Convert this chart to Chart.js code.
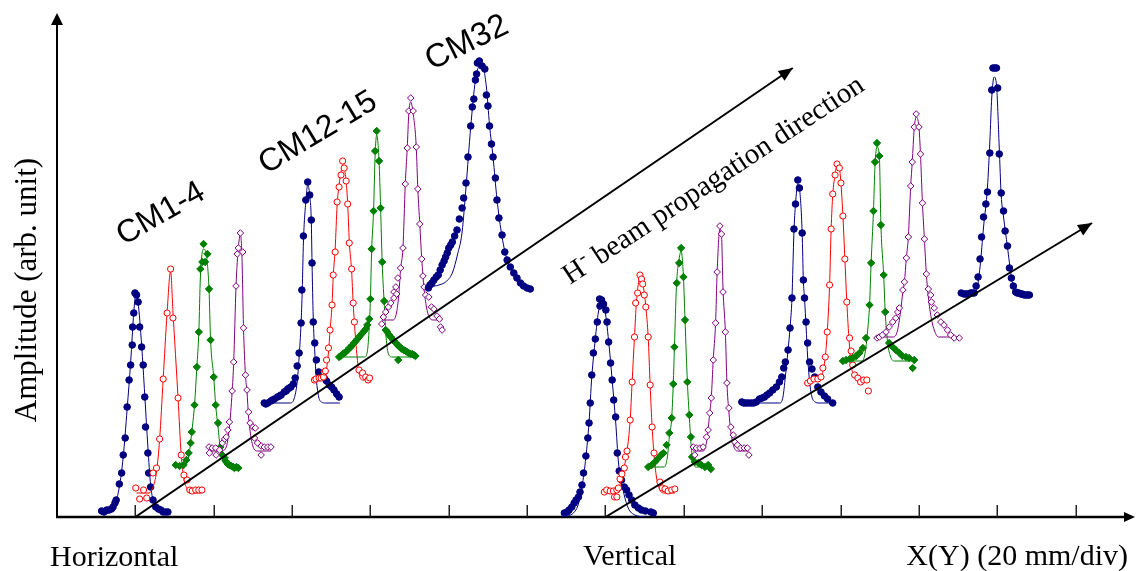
<!DOCTYPE html>
<html>
<head>
<meta charset="utf-8">
<script src="https://cdn.jsdelivr.net/npm/chart.js@4.4.1/dist/chart.umd.min.js"></script>
<style>
html,body{margin:0;padding:0;background:#fff;}
canvas{display:block;}
</style>
</head>
<body>
<canvas id="c" width="1139" height="571"></canvas>
<script>
// ---- axis / decoration data (x in mm, y in arb. unit) ----
const xTicks = [20,40,60,80,100,120,140,160,180,200,220,240,260];
const arrowH = [[20,0],[187.8,449]];
const arrowV = [[140,0],[264.2,294]];

// ---- Horizontal profiles ----
const H_CM1_pts = [[11.4,6],[12.0,5],[12.7,7],[13.3,7],[13.9,8],[14.3,10],[14.8,14],[15.1,17],[15.9,33],[16.5,44],[16.9,62],[17.4,79],[17.9,110],[18.4,137],[18.8,152],[19.2,172],[19.3,190],[19.6,204],[19.9,224],[20.3,222],[20.7,215],[21.1,190],[21.6,170],[22.0,152],[22.4,120],[22.6,90],[23.2,64],[23.4,44],[23.9,30],[24.5,17],[25.2,10],[25.9,8],[26.5,7],[27.1,5],[27.7,5],[28.3,5]];
const H_CM1_fit = [[11.4,3],[13.5,5],[14.8,12],[15.9,30],[16.9,60],[17.9,108],[18.8,155],[19.6,205],[20.1,222],[20.7,214],[21.6,172],[22.4,122],[23.2,70],[23.9,32],[24.5,17],[25.2,8],[26.5,4],[28.3,3]];
const H_CM2_pts = [[20.1,29],[21.1,18],[22.1,27],[22.9,19],[24.5,44],[25.4,49],[26.2,78],[27.1,138],[28.1,204],[29.0,248],[29.6,199],[30.9,119],[31.7,62],[32.4,42],[33.2,37],[33.9,27],[34.5,26],[35.4,27],[36.2,27],[37.0,27]];
const H_CM2_fit = [[20.3,24],[23.5,24],[24.5,30],[25.4,45],[26.2,78],[27.1,138],[28.1,204],[29.0,246],[29.6,205],[30.9,119],[31.7,62],[32.4,38],[33.2,28],[33.9,24],[37.0,24]];
const H_CM3_pts = [[30.3,52],[31.3,51],[32.3,52],[33.0,57],[33.6,64],[34.1,74],[34.4,85],[35.1,112],[35.7,150],[36.2,185],[36.6,248],[37.1,255],[37.4,273],[37.8,255],[38.4,263],[38.8,228],[39.2,177],[40.0,140],[40.5,112],[41.1,94],[41.7,70],[42.2,62],[42.8,59],[43.0,56],[43.6,53],[44.0,52],[44.5,51],[45.0,50],[45.3,49],[45.8,50],[46.3,49]];
const H_CM3_fit = [[30.3,51],[32.5,51],[33.6,60],[34.4,85],[35.1,112],[35.7,150],[36.2,185],[36.6,240],[37.4,268],[38.1,262],[38.8,228],[39.2,177],[40.0,140],[40.5,112],[41.1,90],[41.7,68],[42.5,55],[43.5,51],[46.3,51]];
const H_CM4_pts = [[38.8,70],[38.9,64],[39.6,69],[40.5,69],[40.6,62],[41.5,67],[42.2,74],[42.8,78],[43.2,80],[43.6,87],[44.0,95],[44.7,126],[45.1,155],[45.7,231],[46.0,263],[46.3,269],[46.8,284],[47.4,265],[47.6,189],[48.1,142],[48.5,127],[48.9,105],[49.3,94],[50.0,90],[50.6,89],[50.4,79],[51.2,74],[52.1,71],[52.9,70],[53.8,70],[54.6,70],[52.1,62]];
const H_CM4_fit = [[38.8,66],[42.0,66],[43.2,70],[44.0,90],[44.7,125],[45.1,155],[45.7,231],[46.3,270],[46.8,282],[47.2,262],[47.6,190],[48.1,142],[48.5,125],[48.9,100],[49.5,80],[50.3,68],[51.2,66],[54.6,66]];
const H_CM12_pts = [[52.9,114],[53.3,113],[53.8,114],[54.6,116],[55.0,117],[55.5,118],[56.3,120],[56.8,121],[57.2,122],[58.0,125],[58.5,126],[58.9,128],[59.3,129],[59.7,130],[60.3,133],[60.8,139],[61.3,151],[61.8,164],[62.3,194],[62.5,227],[62.9,281],[63.5,317],[64.0,335],[64.5,322],[64.9,297],[65.1,254],[65.4,195],[65.8,174],[66.2,157],[66.8,145],[67.5,142],[68.2,139],[68.8,136],[69.5,132],[70.1,130],[70.7,127],[71.4,123],[72.0,120]];
const H_CM12_fit = [[52.9,114],[59.5,114],[60.5,118],[61.3,135],[61.8,160],[62.3,194],[62.6,227],[62.9,275],[63.5,315],[64.0,332],[64.5,322],[64.9,297],[65.1,254],[65.4,200],[65.8,165],[66.2,138],[66.8,120],[67.5,115],[68.5,114],[72.2,114]];
const H_CM13_pts = [[65.7,137],[66.1,138],[66.9,139],[67.4,139],[68.0,140],[68.2,145],[68.5,146],[68.8,157],[69.3,169],[69.7,187],[70.2,212],[70.5,242],[71.0,265],[71.5,315],[72.0,330],[72.5,342],[72.9,356],[73.3,349],[73.8,336],[74.2,313],[74.6,274],[75.2,248],[75.6,214],[75.9,195],[77.1,147],[78.0,144],[78.8,140],[79.4,137],[79.8,139]];
const H_CM13_fit = [[65.7,137],[67.5,137],[68.5,142],[69.3,165],[69.7,187],[70.2,212],[70.5,240],[71.0,268],[71.5,312],[72.0,332],[72.5,345],[72.9,352],[73.3,349],[73.8,336],[74.2,313],[74.6,276],[75.2,246],[75.6,214],[75.9,195],[76.6,160],[77.3,140],[78.0,137],[79.8,137]];
const H_CM14_pts = [[72.0,160],[72.4,161],[72.9,163],[73.3,164],[73.7,165],[74.2,167],[74.6,169],[75.0,170],[75.4,172],[75.8,174],[76.3,176],[76.7,178],[77.1,180],[77.5,182],[78.0,184],[78.4,186],[78.8,188],[79.2,192],[79.7,198],[80.0,218],[80.3,268],[80.8,306],[81.2,366],[81.6,386],[82.2,356],[82.6,309],[83.0,255],[83.5,216],[83.9,187],[84.3,185],[84.8,182],[85.2,180],[85.6,178],[86.0,176],[86.5,174],[86.9,172],[87.3,171],[87.7,169],[88.1,168],[88.5,167],[89.0,166],[89.4,165],[89.8,164],[90.3,163],[90.7,163],[91.1,162],[91.5,161],[87.1,157]];
const H_CM14_fit = [[72.0,160],[78.5,160],[79.2,165],[79.7,190],[80.0,218],[80.3,265],[80.8,306],[81.2,362],[81.6,382],[82.2,356],[82.6,309],[83.0,255],[83.5,215],[84.0,180],[84.6,163],[85.5,160],[91.5,160]];
const H_CM15_pts = [[82.9,193],[83.3,200],[83.9,205],[84.6,210],[85.2,214],[86.0,219],[86.0,225],[86.5,230],[86.7,223],[87.0,239],[87.7,249],[88.3,269],[88.9,333],[89.4,369],[89.8,406],[90.3,419],[90.9,406],[91.7,370],[92.1,328],[92.6,293],[93.1,258],[93.4,241],[93.7,230],[94.1,222],[94.9,220],[95.6,210],[96.2,208],[97.0,201],[97.6,198],[97.9,190],[98.3,187]];
const H_CM15_fit = [[82.9,197],[85.8,197],[86.7,205],[87.3,225],[87.7,248],[88.3,269],[88.9,333],[89.4,369],[89.8,404],[90.3,415],[90.9,404],[91.7,370],[92.1,328],[92.6,293],[93.1,258],[93.7,228],[94.3,210],[95.0,200],[96.0,197],[98.3,197]];
const H_CM32_pts = [[94.8,229],[95.2,232],[95.7,234],[96.2,237],[96.8,240],[97.3,242],[97.8,247],[98.3,252],[98.8,256],[99.2,260],[99.6,264],[100.0,269],[100.5,272],[100.9,275],[101.5,281],[102.1,287],[102.7,298],[103.4,309],[103.8,319],[104.4,334],[104.9,360],[105.6,391],[106.0,410],[106.4,418],[106.8,437],[107.1,443],[107.3,454],[107.8,456],[108.5,451],[109.2,448],[109.6,422],[110.0,411],[110.4,391],[110.9,373],[111.3,360],[111.9,339],[112.3,317],[112.8,299],[113.6,282],[114.3,265],[114.9,257],[115.7,250],[116.6,244],[117.4,239],[118.3,234],[119.1,231],[120.0,229],[120.8,228]];
const H_CM32_fit = [[94.8,230],[97.5,232],[99.5,236],[101.0,245],[102.2,262],[103.4,285],[104.4,330],[105.6,390],[106.8,437],[107.8,452],[108.4,454],[109.6,430],[110.4,392],[111.3,360],[112.3,318],[113.6,280],[114.9,257],[116.6,243],[118.3,235],[120.8,229]];

// ---- Vertical profiles ----
const V_CM1_pts = [[129.5,4],[130.2,5],[130.7,7],[131.4,10],[132.0,14],[132.5,17],[133.1,20],[133.5,25],[134.0,32],[134.4,44],[135.0,61],[135.5,79],[135.8,94],[136.1,114],[136.5,142],[136.9,164],[137.4,178],[137.9,195],[138.5,218],[138.6,211],[139.0,217],[139.5,213],[140.1,207],[140.4,195],[140.8,175],[141.3,154],[141.7,137],[142.1,117],[142.6,100],[143.0,64],[143.5,46],[144.1,37],[144.8,30],[145.4,27],[146.0,22],[146.7,17],[147.5,12],[148.4,9],[149.2,7],[150.2,6],[151.6,5],[152.2,4]];
const V_CM1_fit = [[129.0,0],[131.5,3],[133.0,12],[134.0,30],[135.0,60],[135.8,95],[136.5,140],[137.4,178],[138.2,205],[139.0,214],[139.8,208],[140.8,176],[141.7,137],[142.6,95],[143.3,55],[144.6,25],[145.8,9],[147.5,2],[150.2,0]];
const V_CM2_pts = [[139.7,25],[140.3,27],[141.2,26],[142.0,26],[142.3,20],[142.9,27],[142.9,20],[143.3,29],[143.7,38],[144.2,43],[144.8,49],[145.1,60],[145.5,66],[146.3,97],[146.8,135],[147.4,180],[147.7,214],[148.2,224],[148.8,242],[149.2,238],[149.5,233],[149.9,222],[150.3,210],[150.9,180],[151.4,132],[151.9,90],[152.4,64],[153.9,35],[154.5,29],[155.2,28],[156.0,26],[156.9,27],[157.7,28]];
const V_CM2_fit = [[139.7,24],[142.5,24],[143.5,30],[144.5,45],[145.5,66],[146.3,97],[146.8,135],[147.4,180],[147.9,215],[148.5,236],[148.9,241],[149.5,234],[149.9,224],[150.3,210],[150.9,180],[151.4,132],[151.9,90],[152.4,62],[153.0,40],[153.9,27],[154.8,24],[157.7,24]];
const V_CM3_pts = [[150.9,50],[151.8,52],[152.6,55],[153.3,58],[154.2,62],[154.8,64],[155.6,72],[156.3,84],[156.9,99],[157.3,133],[157.6,170],[158.2,234],[158.8,254],[159.3,269],[159.9,240],[160.3,197],[160.9,135],[161.4,102],[161.8,80],[162.1,60],[162.8,55],[163.7,54],[164.5,52],[165.4,50],[166.2,52],[166.9,48]];
const V_CM3_fit = [[150.9,50],[155.0,50],[155.8,60],[156.3,80],[156.9,99],[157.3,133],[157.6,170],[158.1,230],[158.8,258],[159.3,266],[159.9,240],[160.3,197],[160.9,135],[161.4,100],[161.8,75],[162.3,56],[163.2,50],[166.9,50]];
const V_CM4_pts = [[162.4,70],[162.8,62],[163.2,69],[164.1,69],[164.9,70],[165.8,80],[166.2,87],[166.6,104],[167.0,119],[167.5,157],[168.1,194],[168.5,245],[169.2,291],[169.6,283],[170.0,225],[170.6,185],[171.0,134],[171.5,109],[172.0,90],[172.6,82],[173.0,75],[173.7,72],[174.5,69],[175.4,69],[176.2,69],[176.6,62]];
const V_CM4_fit = [[162.4,66],[165.0,66],[165.8,75],[166.2,87],[166.6,104],[167.0,119],[167.5,157],[168.1,194],[168.5,245],[169.2,288],[169.6,283],[170.0,228],[170.6,185],[171.0,134],[171.5,105],[172.0,85],[172.8,70],[173.7,66],[176.6,66]];
const V_CM12_pts = [[174.8,115],[175.3,114],[175.9,114],[176.5,114],[177.2,114],[177.8,114],[178.5,115],[179.3,118],[180.0,119],[180.6,120],[181.2,122],[181.9,124],[182.7,127],[183.6,130],[184.4,135],[185.0,140],[185.5,149],[185.9,155],[186.6,167],[187.1,189],[187.6,219],[188.1,288],[188.5,313],[189.1,337],[189.5,329],[190.2,284],[190.5,237],[190.8,219],[191.2,195],[191.6,174],[192.1,155],[192.7,148],[193.4,140],[194.2,130],[195.0,125],[195.9,121],[196.7,118],[198.0,114]];
const V_CM12_fit = [[174.8,114],[184.5,114],[185.3,120],[185.9,140],[186.6,167],[187.1,189],[187.6,219],[188.1,285],[188.5,313],[189.1,333],[189.5,329],[190.2,284],[190.5,237],[190.8,219],[191.2,190],[191.6,160],[192.1,135],[192.7,120],[193.5,115],[194.5,114],[198.0,114]];
const V_CM13_pts = [[191.6,134],[192.3,136],[193.2,138],[194.2,138],[195.0,140],[195.5,149],[196.1,160],[196.6,185],[197.2,232],[197.6,288],[198.0,323],[198.6,342],[199.1,353],[199.7,349],[200.1,334],[200.6,301],[201.1,258],[201.6,215],[202.3,179],[202.7,166],[203.1,152],[203.6,142],[204.4,139],[205.1,135],[205.9,137],[206.7,137],[207.1,126]];
const V_CM13_fit = [[191.6,137],[194.5,137],[195.3,143],[196.1,160],[196.6,185],[197.2,232],[197.6,288],[198.0,322],[198.6,342],[199.1,352],[199.7,349],[200.1,334],[200.6,301],[201.1,258],[201.6,215],[202.2,175],[202.8,150],[203.6,139],[204.5,137],[207.1,137]];
const V_CM14_pts = [[200.6,156],[201.4,157],[202.3,158],[203.1,159],[204.0,161],[204.8,164],[205.7,169],[206.5,179],[207.4,212],[207.8,254],[208.4,306],[208.8,355],[209.3,374],[209.9,361],[210.3,292],[211.0,242],[211.4,205],[212.4,174],[213.3,170],[214.1,167],[215.0,164],[215.8,161],[216.7,160],[217.5,159],[218.8,157],[218.4,149]];
const V_CM14_fit = [[200.6,156],[205.5,156],[206.3,165],[207.0,190],[207.4,212],[207.8,254],[208.4,306],[208.8,352],[209.3,370],[209.9,361],[210.3,292],[211.0,242],[211.4,205],[212.0,175],[212.8,160],[213.8,156],[218.8,156]];
const V_CM15_pts = [[209.3,179],[209.9,180],[210.7,182],[211.6,185],[212.4,190],[213.3,195],[214.1,199],[214.6,205],[215.0,209],[215.9,227],[216.3,235],[216.8,259],[217.3,280],[217.9,331],[218.3,355],[218.8,390],[219.3,403],[220.0,390],[220.4,363],[220.9,314],[221.4,278],[221.9,243],[222.4,228],[223.0,222],[223.2,215],[223.9,209],[224.7,202],[225.6,195],[226.4,192],[227.3,187],[228.1,182],[229.0,179],[230.3,179]];
const V_CM15_fit = [[209.3,180],[213.5,180],[214.5,186],[215.3,205],[215.9,225],[216.3,235],[216.8,259],[217.3,280],[217.9,331],[218.3,355],[218.8,388],[219.3,400],[220.0,390],[220.4,363],[220.9,314],[221.4,278],[221.9,243],[222.4,220],[223.2,198],[224.0,186],[225.0,180],[230.3,180]];
const V_CM32_pts = [[230.8,224],[231.5,223],[232.0,223],[232.4,223],[233.2,224],[233.6,224],[234.1,224],[234.6,231],[235.1,240],[235.6,258],[236.0,280],[236.5,300],[237.1,313],[237.5,325],[238.1,364],[238.6,427],[238.9,449],[239.4,449],[239.8,449],[240.1,429],[240.5,363],[241.0,324],[241.6,306],[242.0,286],[242.6,271],[243.1,249],[243.6,239],[244.1,231],[244.7,225],[245.1,224],[245.5,224],[246.0,223],[246.4,223],[246.9,222],[247.4,222],[247.8,222],[248.2,222]];
const V_CM32_fit = [[230.8,222],[233.5,222],[234.8,228],[235.6,250],[236.5,290],[237.5,330],[238.1,375],[238.6,420],[239.2,440],[239.8,432],[240.5,370],[241.0,322],[241.6,300],[242.6,270],[243.6,240],[244.5,226],[245.5,222],[248.2,222]];

// ---- styles ----
const STY = {
  blue:   {c:'#000080', style:'circle',  r:3.3, fill:'#000080'},
  red:    {c:'#ff0000', style:'circle',  r:3.1, fill:'#ffffff'},
  green:  {c:'#008000', style:'rectRot', r:3.7, fill:'#008000'},
  purple: {c:'#800080', style:'rectRot', r:3.3, fill:'#ffffff'}
};
const profiles = [
  [H_CM1_pts,H_CM1_fit,'blue'],[H_CM2_pts,H_CM2_fit,'red'],[H_CM3_pts,H_CM3_fit,'green'],[H_CM4_pts,H_CM4_fit,'purple'],
  [H_CM12_pts,H_CM12_fit,'blue'],[H_CM13_pts,H_CM13_fit,'red'],[H_CM14_pts,H_CM14_fit,'green'],[H_CM15_pts,H_CM15_fit,'purple'],
  [H_CM32_pts,H_CM32_fit,'blue'],
  [V_CM1_pts,V_CM1_fit,'blue'],[V_CM2_pts,V_CM2_fit,'red'],[V_CM3_pts,V_CM3_fit,'green'],[V_CM4_pts,V_CM4_fit,'purple'],
  [V_CM12_pts,V_CM12_fit,'blue'],[V_CM13_pts,V_CM13_fit,'red'],[V_CM14_pts,V_CM14_fit,'green'],[V_CM15_pts,V_CM15_fit,'purple'],
  [V_CM32_pts,V_CM32_fit,'blue']
];
const toXY = a => a.map(p => ({x:p[0], y:p[1]}));

const datasets = [];
let ord = 0;
profiles.forEach(([pts, fit, col]) => {
  const s = STY[col];
  datasets.push({data: toXY(fit), showLine:true, pointRadius:0, borderColor:s.c, borderWidth:1,
    cubicInterpolationMode:'monotone', fill:false, order: -(ord++)});
  datasets.push({data: toXY(pts), showLine:false, pointStyle:s.style, pointRadius:s.r,
    pointBackgroundColor:s.fill, pointBorderColor:s.c, pointBorderWidth:1, order: -(ord++)});
});
[arrowH, arrowV].forEach(a => datasets.push({data: toXY(a), showLine:true, pointRadius:0,
  borderColor:'#000', borderWidth:2, order:-1000}));

function head(ctx, tx, ty, ang, len, hw){
  const c = Math.cos(ang), s = Math.sin(ang);
  ctx.beginPath();
  ctx.moveTo(tx, ty);
  ctx.lineTo(tx - len*c + hw*s, ty - len*s - hw*c);
  ctx.lineTo(tx - len*c - hw*s, ty - len*s + hw*c);
  ctx.closePath(); ctx.fill();
}

const deco = {
  id:'deco',
  beforeDatasetsDraw(chart){
    const {ctx, chartArea:a, scales:{x, y}} = chart;
    const x0 = x.getPixelForValue(0), y0 = y.getPixelForValue(0);
    ctx.save();
    ctx.strokeStyle = '#000'; ctx.fillStyle = '#000';
    ctx.lineWidth = 2.5;
    ctx.beginPath(); ctx.moveTo(x0-1, y0); ctx.lineTo(a.right-8, y0); ctx.stroke();
    head(ctx, a.right+1, y0, 0, 11, 5);
    ctx.lineWidth = 2;
    ctx.beginPath(); ctx.moveTo(x0, y0+1); ctx.lineTo(x0, a.top+8); ctx.stroke();
    head(ctx, x0, a.top, -Math.PI/2, 12, 6);
    ctx.strokeStyle = '#222'; ctx.lineWidth = 1.5;
    xTicks.forEach(v => {
      const px = Math.round(x.getPixelForValue(v)) + 0.25;
      ctx.beginPath(); ctx.moveTo(px, y0); ctx.lineTo(px, y0-12); ctx.stroke();
    });
    ctx.restore();
  },
  afterDatasetsDraw(chart){
    const {ctx, scales:{x, y}} = chart;
    ctx.save();
    ctx.fillStyle = '#000';
    [arrowH, arrowV].forEach(a => {
      const p1 = a[a.length-2], p2 = a[a.length-1];
      const x1 = x.getPixelForValue(p1[0]), y1 = y.getPixelForValue(p1[1]);
      const x2 = x.getPixelForValue(p2[0]), y2 = y.getPixelForValue(p2[1]);
      head(ctx, x2, y2, Math.atan2(y2-y1, x2-x1), 14, 6);
    });
    const rot = (txt, cx, cy, deg, font) => {
      ctx.save(); ctx.translate(cx, cy); ctx.rotate(deg*Math.PI/180);
      ctx.font = font; ctx.textAlign = 'center'; ctx.textBaseline = 'middle';
      ctx.fillText(txt, 0, 0); ctx.restore();
    };
    rot('CM1-4', 161, 214, -30, '32px "Liberation Sans", Arial, sans-serif');
    rot('CM12-15', 318, 133, -31, '32px "Liberation Sans", Arial, sans-serif');
    rot('CM32', 467, 43, -26, '33px "Liberation Sans", Arial, sans-serif');

    const serif = '"Liberation Serif", "Times New Roman", serif';
    // H- beam propagation direction
    ctx.save(); ctx.translate(570, 285); ctx.rotate(-33.5*Math.PI/180);
    ctx.textAlign = 'left'; ctx.textBaseline = 'alphabetic';
    ctx.font = '29px ' + serif; ctx.fillText('H', 0, 0);
    let w = ctx.measureText('H').width;
    ctx.font = '20px ' + serif; ctx.fillText('-', w+1, -11);
    w += 1 + ctx.measureText('-').width;
    ctx.font = '29px ' + serif; ctx.fillText(' beam propagation direction', w, 0);
    ctx.restore();

    // Y label
    ctx.save(); ctx.translate(36, 290); ctx.rotate(-Math.PI/2);
    ctx.font = '31px ' + serif; ctx.textAlign = 'center'; ctx.textBaseline = 'alphabetic';
    ctx.fillText('Amplitude (arb. unit)', 0, 0); ctx.restore();

    ctx.font = '30px ' + serif; ctx.textBaseline = 'alphabetic';
    ctx.textAlign = 'left';
    ctx.fillText('Horizontal', 50, 566);
    ctx.fillText('Vertical', 583, 565);
    ctx.textAlign = 'right';
    ctx.fillText('X(Y) (20 mm/div)', 1128, 565);
    ctx.restore();
  }
};

new Chart(document.getElementById('c'), {
  type: 'scatter',
  data: {datasets},
  options: {
    responsive: false,
    animation: false,
    events: [],
    layout: {padding: {left:57, right:2, top:13, bottom:54}},
    plugins: {legend:{display:false}, tooltip:{enabled:false}, title:{display:false}},
    scales: {
      x: {type:'linear', min:0, max:274.9, display:false},
      y: {type:'linear', min:0, max:504, display:false}
    }
  },
  plugins: [deco]
});
</script>
</body>
</html>
